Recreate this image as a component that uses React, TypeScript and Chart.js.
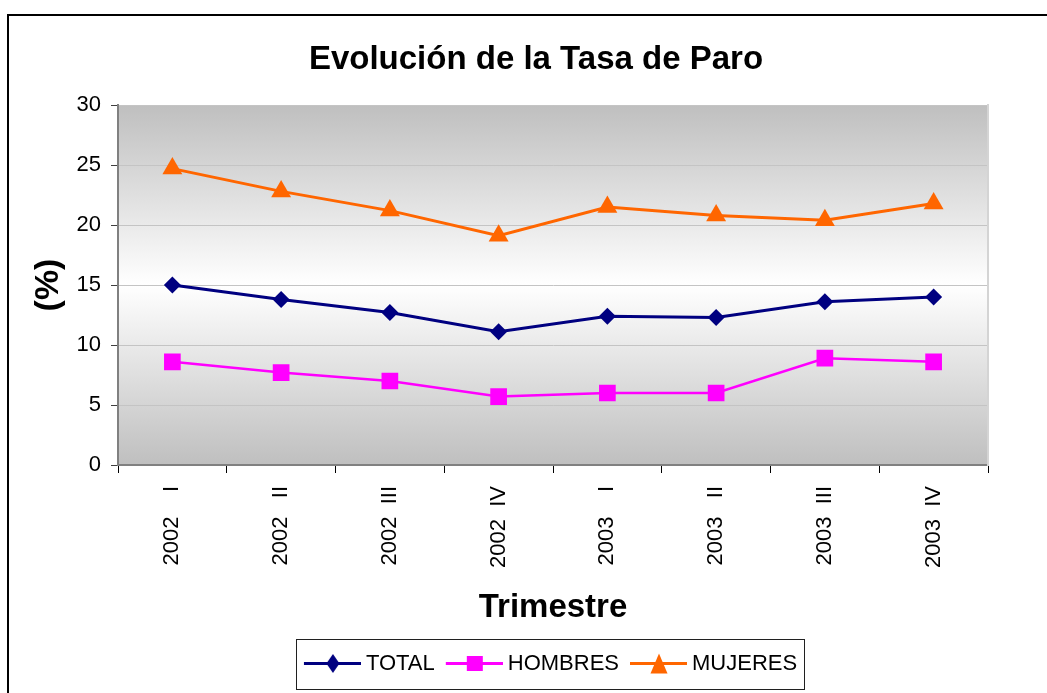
import React, { useEffect, useRef } from 'react';
import { Chart, registerables } from 'chart.js';

Chart.register(...registerables);

// ---- data ----
const categories = [
  '2002    I',
  '2002   II',
  '2002  III',
  '2002  IV',
  '2003    I',
  '2003   II',
  '2003  III',
  '2003  IV',
];
const totalValues = [15.0, 13.8, 12.7, 11.1, 12.4, 12.3, 13.6, 14.0];
const hombresValues = [8.6, 7.7, 7.0, 5.7, 6.0, 6.0, 8.9, 8.6];
const mujeresValues = [24.7, 22.8, 21.2, 19.1, 21.5, 20.8, 20.4, 21.8];
const seriesNames = ['TOTAL', 'HOMBRES', 'MUJERES'];
const seriesColors = ['#000080', '#ff00ff', '#ff6600'];
const chartTitle = 'Evolución de la Tasa de Paro';
const yAxisTitle = '(%)';
const xAxisTitle = 'Trimestre';
const yMin = 0;
const yMax = 30;
const yStep = 5;

const FONT = "'Liberation Sans', Arial, Helvetica, sans-serif";

function makeIcon(color: string, shape: string): HTMLCanvasElement {
  const c = document.createElement('canvas');
  c.width = 64;
  c.height = 24;
  const g = c.getContext('2d')!;
  g.strokeStyle = color;
  g.lineWidth = 3;
  g.beginPath();
  g.moveTo(7, 11.5);
  g.lineTo(64, 11.5);
  g.stroke();
  g.fillStyle = color;
  const cx = 36;
  const cy = 11.5;
  g.beginPath();
  if (shape === 'diamond') {
    g.moveTo(cx, cy - 9.5);
    g.lineTo(cx + 6.5, cy);
    g.lineTo(cx, cy + 9.5);
    g.lineTo(cx - 6.5, cy);
  } else if (shape === 'square') {
    g.rect(cx - 8, cy - 7.5, 16, 15);
  } else {
    g.moveTo(cx, cy - 10);
    g.lineTo(cx + 8.5, cy + 10);
    g.lineTo(cx - 8.5, cy + 10);
  }
  g.closePath();
  g.fill();
  return c;
}

const LEGEND_PAD = 10;
const LEGEND_FONT = 22;
const LEGEND_SHIFT = 14;

const framePlugin = {
  id: 'framePlugin',
  afterLayout(chart: any) {
    if (chart.legend) {
      chart.legend.left += LEGEND_SHIFT;
      chart.legend.right += LEGEND_SHIFT;
    }
  },
  beforeDraw(chart: any) {
    const { ctx, chartArea: a, width, height } = chart;
    ctx.save();
    ctx.fillStyle = '#ffffff';
    ctx.fillRect(0, 0, width, height);
    const g = ctx.createLinearGradient(0, a.top, 0, a.bottom);
    g.addColorStop(0, '#bfbfbf');
    g.addColorStop(0.5, '#ffffff');
    g.addColorStop(1, '#bfbfbf');
    ctx.fillStyle = g;
    ctx.fillRect(a.left, a.top, a.right - a.left, a.bottom - a.top);
    ctx.strokeStyle = '#000000';
    ctx.lineWidth = 2;
    ctx.beginPath();
    ctx.moveTo(8, height + 4);
    ctx.lineTo(8, 15);
    ctx.lineTo(width + 4, 15);
    ctx.stroke();
    ctx.restore();
  },
  afterDraw(chart: any) {
    const lg = chart.legend;
    if (!lg || !lg.lineWidths) return;
    const { ctx } = chart;
    const rowW = lg.lineWidths[0];
    const start = (lg.left + LEGEND_PAD + lg.right - rowW) / 2;
    const cy = lg.top + LEGEND_PAD + LEGEND_FONT / 2;
    const left = Math.round(start - 7) + 0.5;
    const top = Math.round(cy - 25) + 0.5;
    const w = Math.round(rowW - LEGEND_PAD + 14);
    ctx.save();
    ctx.strokeStyle = '#202020';
    ctx.lineWidth = 1;
    ctx.strokeRect(left, top, w, 50);
    ctx.restore();
  },
};

export default function App() {
  const ref = useRef<HTMLCanvasElement>(null);

  useEffect(() => {
    if (!ref.current) return;
    Chart.defaults.font.family = FONT;
    Chart.defaults.color = '#000000';
    const icons = [
      makeIcon(seriesColors[0], 'diamond'),
      makeIcon(seriesColors[1], 'square'),
      makeIcon(seriesColors[2], 'triangle'),
    ];
    const chart = new Chart(ref.current, {
      type: 'line',
      data: {
        labels: categories,
        datasets: [
          {
            label: seriesNames[0],
            data: totalValues,
            borderColor: seriesColors[0],
            backgroundColor: seriesColors[0],
            borderWidth: 3,
            pointStyle: 'rectRot',
            pointRadius: 8.5,
            pointBorderWidth: 0,
            pointHoverRadius: 8.5,
            tension: 0,
          },
          {
            label: seriesNames[1],
            data: hombresValues,
            borderColor: seriesColors[1],
            backgroundColor: seriesColors[1],
            borderWidth: 2.5,
            pointStyle: 'rect',
            pointRadius: 11.8,
            pointBorderWidth: 0,
            pointHoverRadius: 11.8,
            tension: 0,
          },
          {
            label: seriesNames[2],
            data: mujeresValues,
            borderColor: seriesColors[2],
            backgroundColor: seriesColors[2],
            borderWidth: 3,
            pointStyle: 'triangle',
            pointRadius: 11.5,
            pointBorderWidth: 0,
            pointHoverRadius: 11.5,
            tension: 0,
          },
        ],
      },
      options: {
        responsive: false,
        animation: false,
        events: [],
        layout: { padding: { left: 25, right: 0, top: 0, bottom: 8 } },
        plugins: {
          title: {
            display: true,
            text: chartTitle,
            color: '#000000',
            font: { size: 33, weight: 'bold', family: FONT },
            padding: { top: 40, bottom: 25.4 },
          },
          legend: {
            display: true,
            position: 'bottom',
            labels: {
              usePointStyle: true,
              pointStyleWidth: 52,
              padding: LEGEND_PAD,
              color: '#000000',
              font: { size: LEGEND_FONT, family: FONT },
              generateLabels: (ch: any) => {
                const items = (Chart.defaults.plugins.legend.labels as any).generateLabels(ch);
                return items.map((it: any, i: number) => ({ ...it, pointStyle: icons[i], rotation: 0 }));
              },
            },
          },
          tooltip: { enabled: false },
        },
        scales: {
          x: {
            type: 'category',
            offset: true,
            afterFit: (s: any) => {
              s.height = 178;
            },
            grid: {
              offset: true,
              drawOnChartArea: false,
              drawTicks: true,
              tickLength: 8,
              tickColor: '#000000',
              tickWidth: 1,
            },
            border: { display: true, color: '#808080', width: 2 },
            ticks: {
              autoSkip: false,
              maxRotation: 90,
              minRotation: 90,
              padding: 13,
              color: '#000000',
              font: { size: 22, family: FONT },
            },
            title: {
              display: true,
              text: xAxisTitle,
              color: '#000000',
              font: { size: 33, weight: 'bold', family: FONT },
              padding: { top: 0, bottom: 15.5 },
            },
          },
          y: {
            position: 'left',
            min: yMin,
            max: yMax,
            afterFit: (s: any) => {
              s.width = 93;
            },
            ticks: {
              stepSize: yStep,
              padding: 10,
              color: '#000000',
              font: { size: 22, family: FONT },
            },
            grid: {
              color: '#c4c4c4',
              lineWidth: 1,
              tickColor: '#404040',
              tickLength: 7,
            },
            border: { display: true, color: '#808080', width: 2 },
            title: {
              display: true,
              text: yAxisTitle,
              color: '#000000',
              font: { size: 34, weight: 'bold', family: FONT },
              padding: { top: 3, bottom: 0 },
            },
          },
          yR: {
            position: 'right',
            display: true,
            afterFit: (s: any) => {
              s.width = 59;
            },
            ticks: { display: false },
            grid: { display: false, drawTicks: false },
            border: { display: true, color: '#d4d4d4', width: 2 },
          },
        },
      } as any,
      plugins: [framePlugin],
    });
    return () => chart.destroy();
  }, []);

  return (
    <div style={{ position: 'fixed', left: 0, top: 0, width: 1047, height: 693, background: '#fff' }}>
      <canvas ref={ref} width={1047} height={693} style={{ display: 'block' }} />
    </div>
  );
}
